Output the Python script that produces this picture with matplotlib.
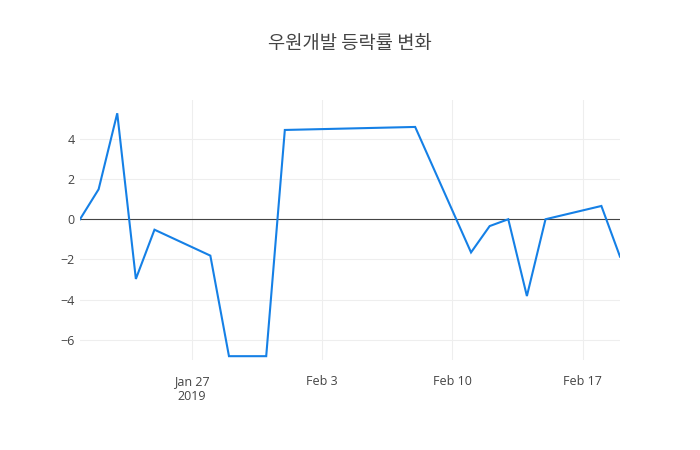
import matplotlib
matplotlib.use("Agg")
import matplotlib.pyplot as plt
import pandas as pd

dates = ["2019-01-21", "2019-01-22", "2019-01-23", "2019-01-24", "2019-01-25",
         "2019-01-28", "2019-01-29", "2019-01-31", "2019-02-01", "2019-02-08",
         "2019-02-11", "2019-02-12", "2019-02-13", "2019-02-14", "2019-02-15",
         "2019-02-18", "2019-02-19"]
rates = [0.0, 1.49, 5.27, -2.97, -0.52,
         -1.81, -6.81, -6.81, 4.44, 4.59,
         -1.65, -0.34, 0.0, -3.82, 0.0,
         0.66, -1.86]
tick_dates = ["2019-01-27", "2019-02-03", "2019-02-10", "2019-02-17"]
tick_labels = ["Jan 27\n2019", "Feb 3", "Feb 10", "Feb 17"]
y_ticks = [-6, -4, -2, 0, 2, 4]
title = "우원개발 등락률 변화"

plt.rcParams['font.family'] = ['Open Sans', 'Noto Sans CJK KR', 'DejaVu Sans']

x = pd.to_datetime(dates)
fig = plt.figure(figsize=(7, 4.5), dpi=100)
ax = fig.add_axes([80/700, 90/450, 540/700, 260/450])

ax.plot(x, rates, color='#1580e6', lw=1.5, zorder=3, solid_joinstyle='miter')
ax.axhline(0, color='#444444', lw=0.8, zorder=2)

ax.set_xlim(x[0], x[-1])
ax.set_ylim(-7.0, 5.93)

ax.set_xticks(pd.to_datetime(tick_dates))
ax.set_xticklabels(tick_labels)
ax.set_yticks(y_ticks)
ax.set_yticklabels([f"\u2212{abs(v)}" if v < 0 else str(v) for v in y_ticks])

ax.grid(True, color='#eeeeee', lw=0.75, zorder=0)
for s in ax.spines.values():
    s.set_visible(False)
ax.tick_params(axis='both', length=0, labelsize=9, colors='#444444')
ax.tick_params(axis='x', pad=11)
ax.tick_params(axis='y', pad=4)

fig.text(0.5, 1 - 44/450, title, ha='center', va='center', fontsize=13.5,
         color='#444444', family=['Noto Sans CJK KR', 'DejaVu Sans'])

fig.savefig("out.png", dpi=100)
